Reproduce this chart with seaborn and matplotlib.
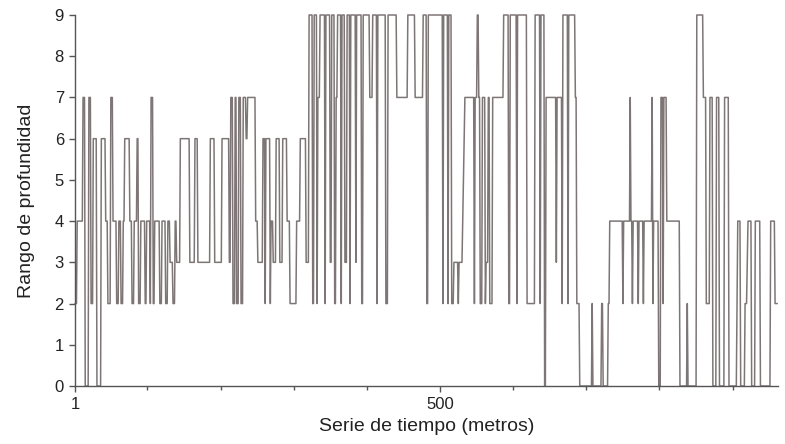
import numpy as np
import pandas as pd
import matplotlib
matplotlib.use("Agg")
import matplotlib.pyplot as plt
import seaborn as sns
from matplotlib.ticker import FixedLocator

# Start (metre) of each constant run of the depth range
start_m = [1, 4, 12, 15, 20, 23, 26, 31, 37, 43, 46, 50, 53, 58, 61, 64, 67, 69, 76, 79,
           82, 86, 88, 91, 97, 99, 104, 105, 108, 110, 117, 120, 125, 128, 131, 135, 138, 140, 145, 158,
           165, 169, 186, 192, 202, 212, 214, 217, 220, 222, 225, 228, 231, 235, 237, 248, 251, 258, 261, 262,
           268, 269, 272, 276, 281, 285, 291, 295, 304, 309, 317, 321, 326, 328, 332, 333, 336, 343, 344, 350,
           352, 356, 358, 360, 365, 366, 370, 373, 377, 378, 385, 386, 393, 395, 404, 408, 414, 415, 426, 429,
           441, 456, 466, 477, 482, 484, 504, 505, 511, 512, 516, 519, 525, 526, 531, 532, 533, 534, 547, 548,
           551, 553, 555, 558, 562, 563, 566, 568, 572, 587, 594, 596, 605, 606, 619, 630, 637, 638, 643, 645,
           659, 660, 667, 668, 675, 676, 685, 687, 691, 708, 709, 721, 723, 730, 732, 750, 751, 760, 761, 763,
           764, 771, 772, 778, 779, 790, 791, 792, 799, 802, 805, 806, 810, 828, 838, 839, 851, 860, 864, 869,
           873, 878, 882, 889, 895, 906, 907, 911, 917, 920, 921, 926, 931, 938, 952, 958]
# Depth range value of each run
depth = [2, 4, 7, 0, 7, 2, 6, 0, 6, 4, 2, 7, 4, 2, 4, 2, 4, 6, 4, 2,
         4, 6, 2, 4, 2, 4, 2, 7, 2, 4, 2, 4, 2, 4, 3, 2, 4, 3, 6, 3,
         6, 3, 6, 3, 6, 3, 7, 2, 7, 2, 7, 2, 7, 6, 7, 4, 3, 6, 2, 6,
         2, 4, 3, 6, 3, 6, 4, 2, 4, 6, 3, 9, 2, 9, 2, 7, 9, 2, 9, 3,
         9, 2, 7, 9, 2, 9, 3, 9, 2, 9, 3, 9, 2, 9, 7, 9, 2, 9, 2, 9,
         7, 9, 7, 9, 2, 9, 2, 9, 2, 9, 2, 3, 2, 3, 4, 5, 6, 7, 2, 7,
         9, 7, 2, 7, 2, 3, 7, 2, 7, 9, 2, 9, 2, 9, 2, 9, 2, 9, 0, 7,
         3, 7, 2, 9, 2, 9, 7, 2, 0, 2, 0, 2, 0, 2, 4, 2, 4, 7, 4, 2,
         4, 2, 4, 2, 4, 7, 2, 4, 0, 7, 2, 7, 4, 0, 2, 0, 9, 7, 2, 7,
         0, 7, 0, 7, 0, 2, 4, 0, 2, 3, 4, 0, 4, 0, 4, 2]
end_m = 962

x_ticks = [1, 500]
x_minor = [100, 200, 300, 400, 600, 700, 800, 900]
y_ticks = [0, 1, 2, 3, 4, 5, 6, 7, 8, 9]

lengths = np.diff(start_m + [end_m])
serie = np.repeat(depth, lengths)
df = pd.DataFrame({"metros": np.arange(1, len(serie) + 1), "rango": serie})

sns.set_theme(style="white")
plt.rcParams["font.family"] = ["Liberation Sans", "DejaVu Sans"]

fig = plt.figure(figsize=(7.85, 4.44), dpi=100)
ax = fig.add_axes([75 / 785, 1 - 386 / 444, (778 - 75) / 785, (386 - 15) / 444])
sns.lineplot(data=df, x="metros", y="rango", ax=ax, color="#7e7676",
             linewidth=1.1, estimator=None)
for ln in ax.lines:
    ln.set_clip_on(False)

ax.set_xlim(1, end_m)
ax.set_ylim(0, 9)
ax.set_yticks(y_ticks)
ax.set_xticks(x_ticks)
ax.xaxis.set_minor_locator(FixedLocator(x_minor))
ax.set_xticklabels([str(v) for v in x_ticks])
ax.set_yticklabels([str(v) for v in y_ticks])

for s in ["top", "right"]:
    ax.spines[s].set_visible(False)
for s in ["left", "bottom"]:
    ax.spines[s].set_color("#555555")
    ax.spines[s].set_linewidth(1.0)

ax.tick_params(axis="both", which="major", direction="out", length=4, width=1.0,
               color="#555555", labelsize=12, labelcolor="#222222",
               left=True, bottom=True, pad=4)
ax.tick_params(axis="x", which="minor", direction="out", length=3, width=1.0,
               color="#555555", bottom=True)

ax.set_xlabel("Serie de tiempo (metros)", fontsize=14, color="#222222", labelpad=4)
ax.set_ylabel("Rango de profundidad", fontsize=14, color="#222222", labelpad=14)

fig.savefig("out.png", dpi=100)
